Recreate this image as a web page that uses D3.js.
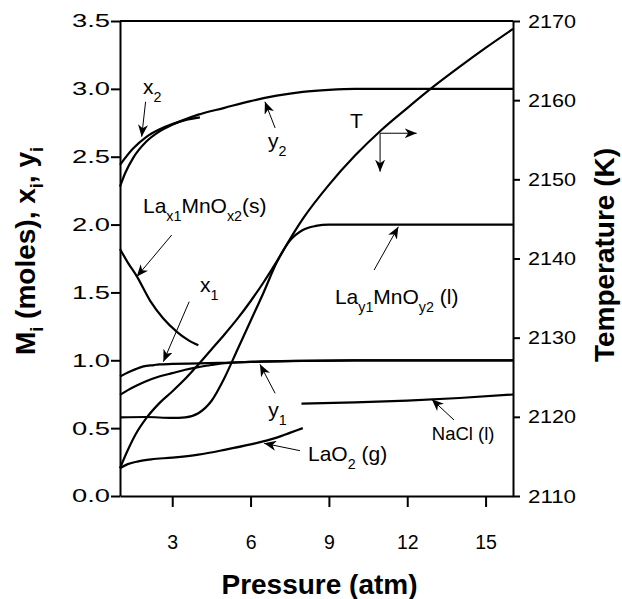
<!DOCTYPE html>
<html>
<head>
<meta charset="utf-8">
<script src="https://cdn.jsdelivr.net/npm/d3@7/dist/d3.min.js"></script>
<style>
  html, body { margin: 0; padding: 0; background: #fff; }
  svg text { font-family: "Liberation Sans", Arial, Helvetica, sans-serif; fill: #000; }
</style>
</head>
<body>
<svg id="chart" width="622" height="599"></svg>
<script>
// ---------- data ----------
const pressureTicks = [3, 6, 9, 12, 15];
const leftTicks = [0, 0.5, 1.0, 1.5, 2.0, 2.5, 3.0, 3.5];
const rightTicks = [2110, 2120, 2130, 2140, 2150, 2160, 2170];

const x2Series = [[1.0,2.44],[1.5,2.56],[2.0,2.645],[2.5,2.70],[3.0,2.74],[3.5,2.77],[4.06,2.79]];
const y2Series = [[1.0,2.28],[1.2,2.38],[1.5,2.49],[2.0,2.61],[2.5,2.685],[3.0,2.735],[3.5,2.775],[4.0,2.81],[5.0,2.86],[6.0,2.91],[7.0,2.95],[8.0,2.978],[9.0,2.993],[10,3.0],[12,3.0],[14,3.0],[16.05,3.0]];
const laSolidSeries = [[1.0,1.82],[1.3,1.72],[1.64,1.62],[2.15,1.44],[2.65,1.31],[3.18,1.21],[3.6,1.15],[4.0,1.11]];
const x1Series = [[1.0,0.88],[1.3,0.91],[1.6,0.935],[1.9,0.955],[2.3,0.965],[2.5,0.97],[3,0.973],[4,0.977],[5,0.982],[6,0.988],[8,0.996],[10,0.999],[12,1.0],[16.05,1.0]];
const y1Series = [[1.0,0.745],[1.3,0.78],[1.6,0.81],[2.0,0.845],[2.5,0.88],[3.0,0.905],[3.5,0.93],[4.0,0.95],[4.5,0.965],[5.0,0.978],[6,0.988],[8,0.996],[10,0.999],[12,1.0],[16.05,1.0]];
const laO2Series = [[1.0,0.205],[1.3,0.235],[1.7,0.255],[2.2,0.27],[3.0,0.283],[4.0,0.305],[5.0,0.34],[6.0,0.38],[7.0,0.43],[7.5,0.465],[8.0,0.50]];
const naclSeries = [[7.95,0.68],[10,0.69],[12,0.703],[14,0.722],[16.05,0.748]];
const laLiquidSeries = [[1.0,0.58],[2.0,0.582],[3.0,0.575],[3.5,0.58],[4.0,0.61],[4.5,0.70],[5.0,0.87],[5.5,1.08],[6.0,1.29],[6.5,1.50],[7.0,1.72],[7.5,1.88],[8.0,1.96],[8.5,1.99],[9.0,2.0],[16.05,2.0]];
const tempSeries = [[1.0,2113.5],[1.3,2115.8],[1.6,2117.8],[2.0,2119.8],[2.5,2121.7],[3.0,2123.2],[3.5,2124.8],[4.0,2126.6],[4.5,2128.5],[5.0,2130.4],[5.5,2132.4],[6.0,2134.6],[6.5,2137.0],[7.0,2139.6],[7.5,2142.4],[8.0,2145.0],[9.0,2149.3],[10,2153.0],[11,2156.2],[12,2159.0],[13,2161.7],[14,2164.2],[15,2166.6],[16.05,2169.0]];

// annotation labels: position in data units, parts: [text, isSub]
const labels = [
  {p:1.88, v:2.96, size:21, parts:[["x",0],["2",1]]},
  {p:6.67, v:2.562, size:21, parts:[["y",0],["2",1]]},
  {p:1.88, v:2.085, size:21, parts:[["La",0],["x1",1],["MnO",0],["x2",1],["(s)",0]]},
  {p:4.06, v:1.505, size:21, parts:[["x",0],["1",1]]},
  {p:6.68, v:0.58, size:21, parts:[["y",0],["1",1]]},
  {p:8.2, v:0.258, size:21, parts:[["LaO",0],["2",1],[" (g)",0]]},
  {p:12.94, v:0.413, size:18.5, parts:[["NaCl (l)",0]]},
  {p:9.23, v:1.415, size:21, parts:[["La",0],["y1",1],["MnO",0],["y2",1],[" (l)",0]]},
  {p:9.81, v:2.71, size:21, parts:[["T",0]]}
];
// arrows: from [P,v] to tip [P,v]
const arrows = [
  [[1.98,2.905],[1.83,2.648]],
  [[6.94,2.712],[6.55,2.905]],
  [[2.98,1.923],[1.64,1.616]],
  [[3.65,1.432],[2.66,0.99]],
  [[6.94,0.757],[6.36,0.97]],
  [[7.89,0.334],[6.52,0.388]],
  [[13.79,0.56],[12.94,0.713]],
  [[10.73,1.665],[11.66,1.984]],
  [[10.96,2.673],[12.36,2.673]],
  [[10.96,2.673],[10.96,2.39]]
];

// ---------- layout ----------
const svg = d3.select("#chart");
const mLeft = 120, mRight = 513, mTop = 21, mBottom = 496;
const x = d3.scaleLinear().domain([1, 16.05]).range([mLeft, mRight]);
const y = d3.scaleLinear().domain([0, 3.5]).range([mBottom, mTop]);
const yT = d3.scaleLinear().domain([2110, 2170]).range([mBottom, mTop]);

svg.append("defs").append("marker")
  .attr("id", "arrow").attr("viewBox", "0 0 12 10")
  .attr("refX", 12).attr("refY", 5)
  .attr("markerWidth", 12).attr("markerHeight", 10)
  .attr("markerUnits", "userSpaceOnUse")
  .attr("orient", "auto")
  .append("path").attr("d", "M0,0 L12,5 L0,10 L3.5,5 Z").attr("fill", "#000");

// axes
const ax = svg.append("g").attr("transform", `translate(0,${mBottom})`)
  .call(d3.axisBottom(x).tickValues(pressureTicks).tickSize(11).tickSizeOuter(0).tickPadding(28).tickFormat(d3.format("d")));
ax.selectAll("text").attr("font-size", 19.5);

const ayl = svg.append("g").attr("transform", `translate(${mLeft},0)`)
  .call(d3.axisLeft(y).tickValues(leftTicks).tickSize(9).tickSizeOuter(0).tickPadding(1).tickFormat(d3.format(".1f")));
ayl.selectAll("text").attr("font-size", 18.5).attr("textLength", 38).attr("lengthAdjust", "spacingAndGlyphs");

const ayr = svg.append("g").attr("transform", `translate(${mRight},0)`)
  .call(d3.axisRight(yT).tickValues(rightTicks).tickSize(7).tickSizeOuter(0).tickPadding(8).tickFormat(d3.format("d")));
ayr.selectAll("text").attr("font-size", 19).attr("textLength", 48).attr("lengthAdjust", "spacingAndGlyphs");

svg.selectAll(".domain, .tick line").attr("stroke", "#000").attr("stroke-width", 2);
svg.selectAll(".tick text").attr("fill", "#000");

// top border
svg.append("line").attr("x1", mLeft).attr("x2", mRight).attr("y1", y(3.5)).attr("y2", y(3.5))
  .attr("stroke", "#000").attr("stroke-width", 2);

// axis titles
svg.append("text").attr("x", (mLeft + mRight) / 2 + 3).attr("y", 594).attr("text-anchor", "middle")
  .attr("font-size", 28).attr("font-weight", "bold").text("Pressure (atm)");

const lt = svg.append("text").attr("transform", "translate(35,251) rotate(-90)")
  .attr("text-anchor", "middle").attr("font-size", 28).attr("font-weight", "bold");
[["M",0],["i",1],[" (moles), x",0],["i",1],[",  y",0],["i",1]].forEach(([t, s], i, arr) => {
  const ts = lt.append("tspan").text(t);
  if (s) ts.attr("font-size", 18).attr("dy", 8);
  else if (i > 0 && arr[i-1][1]) ts.attr("dy", -8);
});

svg.append("text").attr("transform", "translate(614,255) rotate(-90)")
  .attr("text-anchor", "middle").attr("font-size", 28).attr("font-weight", "bold").text("Temperature (K)");

// curves
const line = d3.line().x(d => x(d[0])).y(d => y(d[1])).curve(d3.curveMonotoneX);
const lineT = d3.line().x(d => x(d[0])).y(d => yT(d[1])).curve(d3.curveMonotoneX);
[x2Series, y2Series, laSolidSeries, x1Series, y1Series, laO2Series, naclSeries, laLiquidSeries].forEach(s => {
  svg.append("path").attr("d", line(s)).attr("fill", "none").attr("stroke", "#000").attr("stroke-width", 2.2);
});
svg.append("path").attr("d", lineT(tempSeries)).attr("fill", "none").attr("stroke", "#000").attr("stroke-width", 2.2);

// arrows
arrows.forEach(([a, b]) => {
  svg.append("line").attr("x1", x(a[0])).attr("y1", y(a[1])).attr("x2", x(b[0])).attr("y2", y(b[1]))
    .attr("stroke", "#000").attr("stroke-width", 1).attr("marker-end", "url(#arrow)");
});

// labels
labels.forEach(l => {
  const t = svg.append("text").attr("x", x(l.p)).attr("y", y(l.v)).attr("font-size", l.size);
  l.parts.forEach(([txt, sub], i, arr) => {
    const ts = t.append("tspan").text(txt);
    if (sub) ts.attr("font-size", l.size * 0.68).attr("dy", 8);
    else if (i > 0 && arr[i-1][1]) ts.attr("dy", -8);
  });
});
</script>
</body>
</html>
